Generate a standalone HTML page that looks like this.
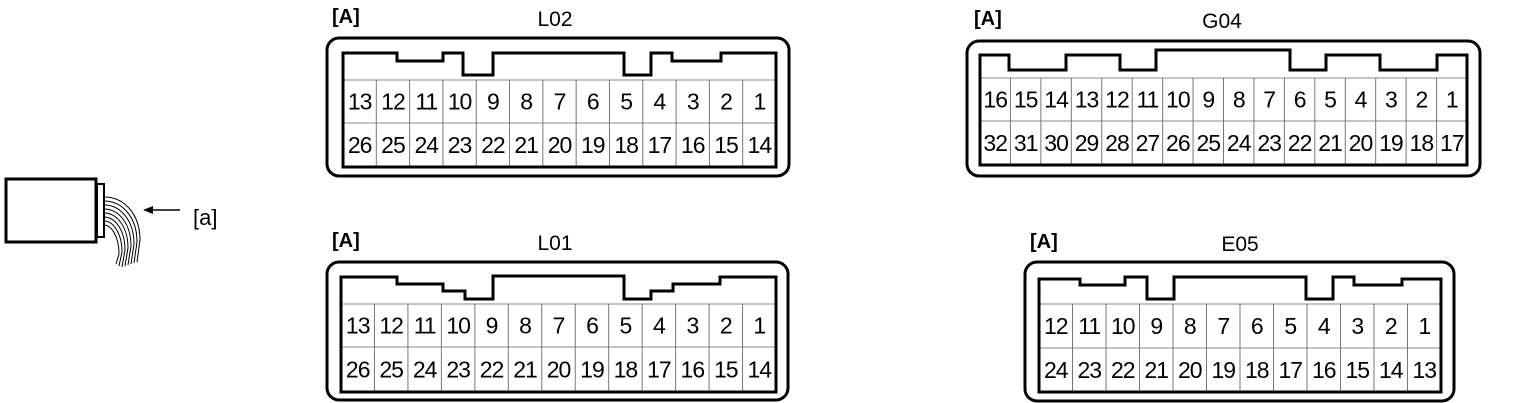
<!DOCTYPE html>
<html><head><meta charset="utf-8"><style>
html,body{margin:0;padding:0;background:#fff;}
svg{display:block;font-family:"Liberation Sans",Arial,sans-serif;}
</style></head><body>
<svg id="s" width="1537" height="403" viewBox="0 0 1537 403">
<g fill="none" stroke="#000">
<rect x="6" y="179" width="90" height="63" stroke-width="3"/>
<rect x="97" y="184" width="7" height="53" stroke-width="2"/>
<g stroke-width="1">
<path d="M104 197 C125 197 140 215 140 240 L137 262"/>
<path d="M104 201 C123 201 137 218 137 242 L134 263"/>
<path d="M104 205 C121 205 134 221 134 244 L131 264"/>
<path d="M104 209 C119 209 131 224 131 246 L128 265"/>
<path d="M104 213 C117 213 128 227 128 248 L125 266"/>
<path d="M104 217 C115 217 125 230 125 250 L122 267"/>
<path d="M104 221 C113 221 122 233 122 252 L119 266"/>
<path d="M104 225 C111 225 119 236 119 254 L116 264"/>
</g>
<line x1="180" y1="210" x2="150" y2="210" stroke-width="1.5"/>
<path d="M143 210 L153 206 L153 214 Z" fill="#000" stroke="none"/>
</g>
<text x="193" y="225" font-size="22">[a]</text>
</svg>
<script>
const NS='http://www.w3.org/2000/svg';
const svg=document.getElementById('s');
const L02Top=[13,12,11,10,9,8,7,6,5,4,3,2,1];
const L02Bot=[26,25,24,23,22,21,20,19,18,17,16,15,14];
const G04Top=[16,15,14,13,12,11,10,9,8,7,6,5,4,3,2,1];
const G04Bot=[32,31,30,29,28,27,26,25,24,23,22,21,20,19,18,17];
const E05Top=[12,11,10,9,8,7,6,5,4,3,2,1];
const E05Bot=[24,23,22,21,20,19,18,17,16,15,14,13];
const conns=[
 {name:'L02',ox:327,oy:38,ow:462,oh:138,ix:343,iy:53,ix2:776,r1:80,r2:123,iy2:167,tx:555,ty:26,ax:332,top:L02Top,bot:L02Bot,
  prof:[[343,53],[397,53],[397,61],[443,61],[443,53],[463,53],[463,75],[493,75],[493,53],[624,53],[624,75],[651,75],[651,53],[672,53],[672,61],[721,61],[721,53],[776,53]]},
 {name:'G04',ox:967,oy:41,ow:513,oh:135,ix:980,iy:55,ix2:1467,r1:78,r2:121,iy2:165,tx:1222,ty:28,ax:974,top:G04Top,bot:G04Bot,
  prof:[[980,55],[1009,55],[1009,70],[1066,70],[1066,55],[1120,55],[1120,70],[1156,70],[1156,50],[1290,50],[1290,70],[1326,70],[1326,55],[1380,55],[1380,70],[1437,70],[1437,55],[1467,55]]},
 {name:'L01',ox:327,oy:262,ow:461,oh:138,ix:341,iy:277,ix2:776,r1:304,r2:347,iy2:392,tx:555,ty:250,ax:332,top:L02Top,bot:L02Bot,
  prof:[[341,277],[397,277],[397,284],[443,284],[443,291],[465,291],[465,299],[493,299],[493,276],[624,276],[624,299],[651,299],[651,291],[673,291],[673,284],[720,284],[720,277],[776,277]]},
 {name:'E05',ox:1025,oy:262,ow:429,oh:139,ix:1039,iy:279,ix2:1441,r1:304,r2:348,iy2:392,tx:1240,ty:251,ax:1030,top:E05Top,bot:E05Bot,
  prof:[[1039,279],[1080,279],[1080,285],[1125,285],[1125,277],[1147,277],[1147,299],[1174,299],[1174,277],[1306,277],[1306,299],[1333,299],[1333,277],[1354,277],[1354,285],[1402,285],[1402,279],[1441,279]]}
];
function el(t,a,p){const e=document.createElementNS(NS,t);for(const k in a)e.setAttribute(k,a[k]);(p||svg).appendChild(e);return e;}
conns.forEach(c=>{
 const g=el('g',{});
 
 
 const a=el('text',{x:c.ax,y:c.ty-3,'font-size':20,'font-weight':'bold'},g);a.textContent='[A]';
 
 
 const t=el('text',{x:c.tx,y:c.ty,'font-size':21,'text-anchor':'middle'},g);t.textContent=c.name;
 
 
 const o=el('rect',{x:c.ox,y:c.oy,width:c.ow,height:c.oh,rx:12,fill:'none',stroke:'#000','stroke-width':3},g);
 
 
 const n=c.top.length,w=(c.ix2-c.ix)/n;
 el('line',{x1:c.ix,y1:c.r1,x2:c.ix2,y2:c.r1,stroke:'#888','stroke-width':1},g);
 el('line',{x1:c.ix,y1:c.r2,x2:c.ix2,y2:c.r2,stroke:'#888','stroke-width':1},g);
 for(let i=1;i<n;i++){const x=c.ix+i*w;el('line',{x1:x,y1:c.r1,x2:x,y2:c.iy2,stroke:'#777','stroke-width':1},g);}
 for(let i=0;i<n;i++){
  const cx=c.ix+(i+0.5)*w;
  const t1=el('text',{x:cx,y:(c.r1+c.r2)/2+8,'font-size':23,'letter-spacing':'-1','text-anchor':'middle'},g);t1.textContent=c.top[i];
  
  
  const t2=el('text',{x:cx,y:(c.r2+c.iy2)/2+8,'font-size':23,'letter-spacing':'-1','text-anchor':'middle'},g);t2.textContent=c.bot[i];
  
  
 }
 let d='M'+c.ix+' '+c.iy2+' L'+c.prof.map(p=>p[0]+' '+p[1]).join(' L')+' L'+c.ix2+' '+c.iy2+' Z';
 const p=el('path',{d:d,fill:'none',stroke:'#000','stroke-width':3,'stroke-linejoin':'miter'},g);
 
 
});
</script>
</body></html>
